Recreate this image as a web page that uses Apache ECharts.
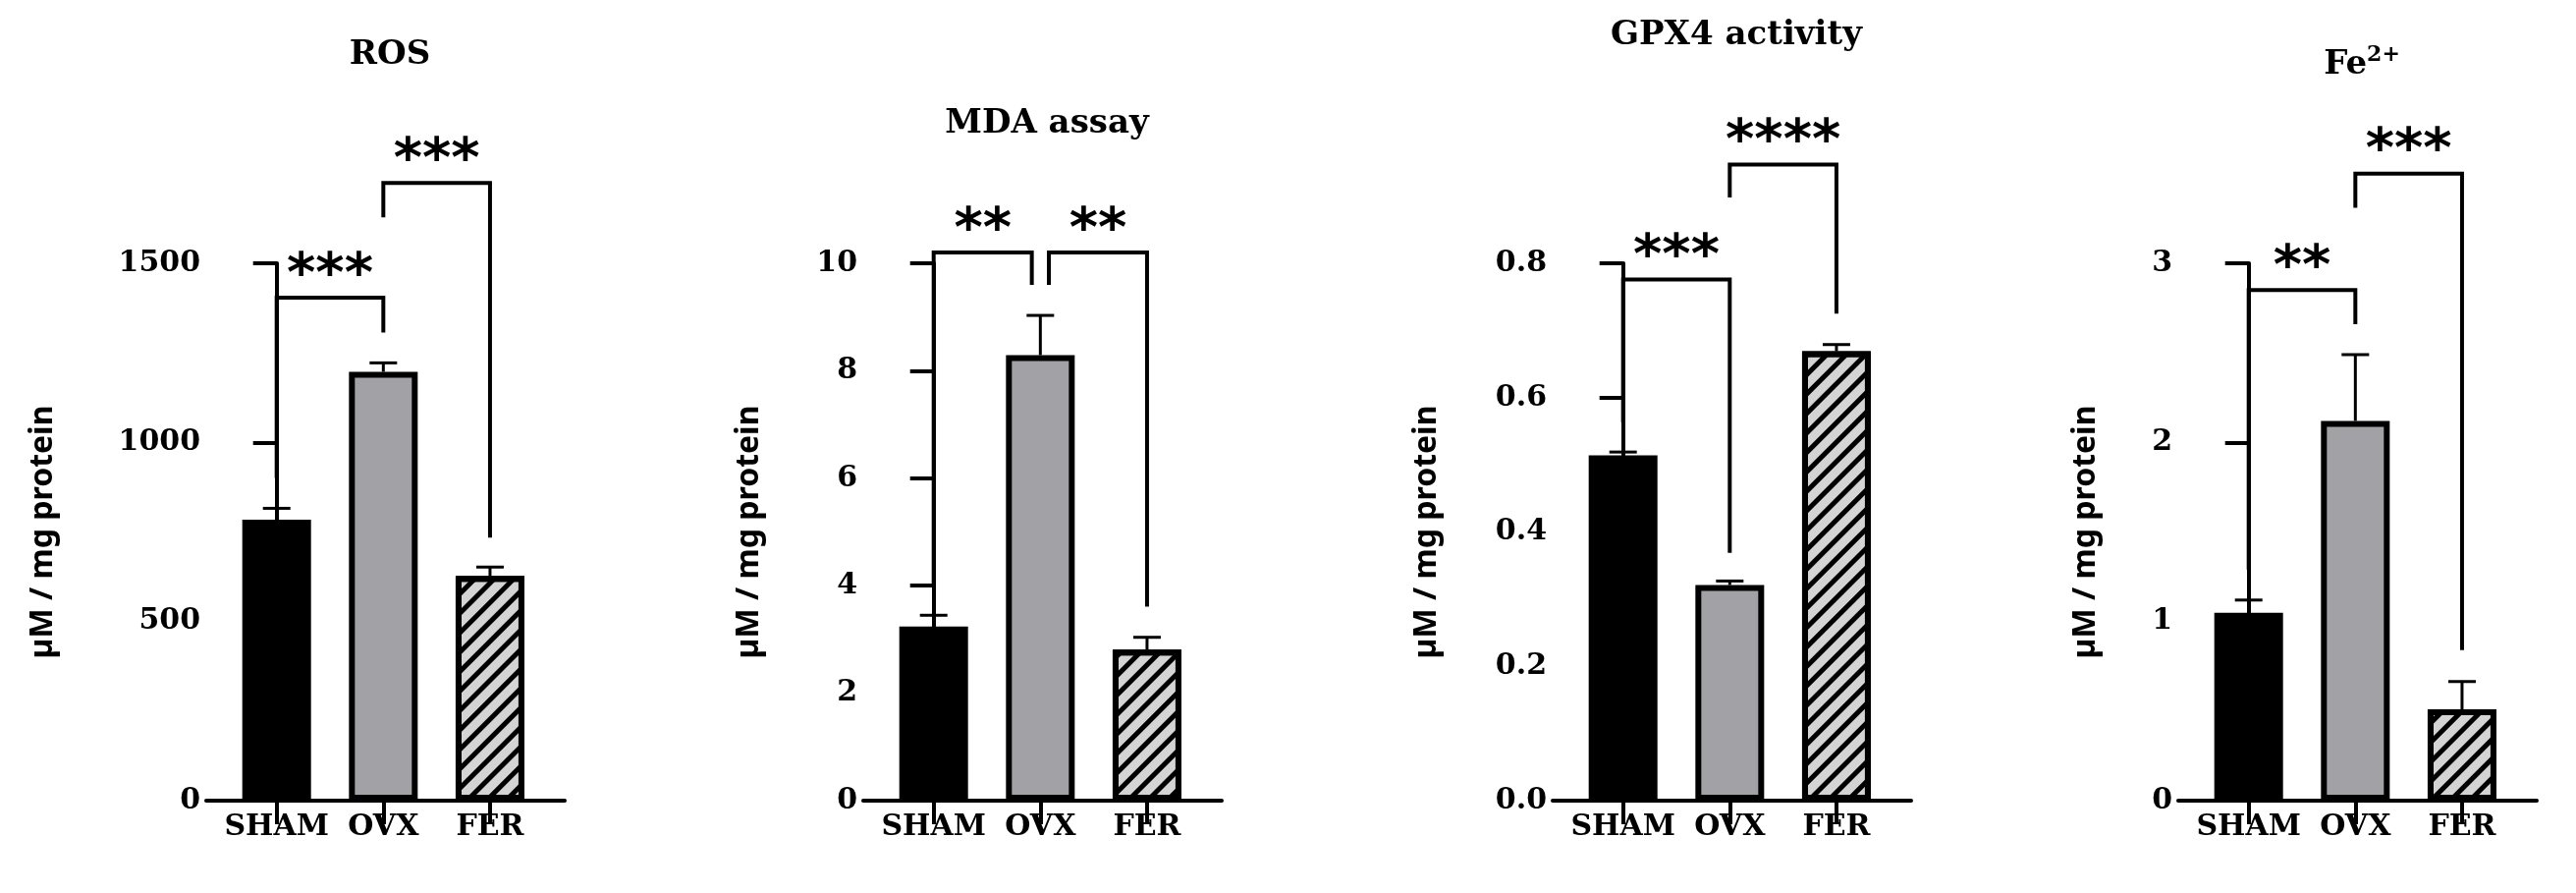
<!DOCTYPE html>
<html><head><meta charset="utf-8">
<script src="https://cdn.jsdelivr.net/npm/echarts@6/dist/echarts.min.js"></script>
<style>html,body{margin:0;padding:0;background:#fff}#c{width:2623px;height:909px}</style>
</head><body><div id="c"></div>
<script>
const categories = ['SHAM','OVX','FER'];
const panelTitles = ['ROS','MDA assay','GPX4 activity','Fe2+'];
const rosMean = [784, 1197, 627];
const rosErr  = [816, 1222, 652];
const mdaMean = [3.24, 8.29, 2.81];
const mdaErr  = [3.45, 9.03, 3.04];
const gpxMean = [0.514, 0.321, 0.669];
const gpxErr  = [0.519, 0.327, 0.679];
const feMean  = [1.049, 2.12, 0.51];
const feErr   = [1.12, 2.49, 0.665];
const yMax = [1500, 10, 0.8, 3];
const yInterval = [500, 2, 0.2, 1];
// brackets: [fromIdx, toIdx, yTop, yLeftEnd, yRightEnd, stars]
const rosBr = [[0,1,1404,901,1307,'***'],[1,2,1724,1628,734,'***']];
const mdaBr = [[0,0.92,10.2,4.02,9.6,'**'],[1.08,2,10.2,9.6,3.61,'**']];
const gpxBr = [[0,1,0.776,0.563,0.369,'***'],[1,2,0.947,0.898,0.725,'****']];
const feBr  = [[0,1,2.85,1.29,2.66,'**'],[1,2,3.5,3.31,0.84,'***']];

const means=[rosMean,mdaMean,gpxMean,feMean], errs=[rosErr,mdaErr,gpxErr,feErr], brs=[rosBr,mdaBr,gpxBr,feBr];
const gridLeft=[210,879,1581,2218];
const nameGaps=[150,100,112,78];
const titleTop=[34,104,14,40];
const fills=['#000000','#a2a2a6','#d4d4d4'];
const serif='"DejaVu Serif"';

const chart=echarts.init(document.getElementById('c'));
const grid=[],xAxis=[],yAxis=[],series=[],title=[];
for(let p=0;p<4;p++){
  grid.push({left:gridLeft[p],width:365,top:268,bottom:94});
  xAxis.push({type:'value',gridIndex:p,min:-0.66,max:2.7,splitLine:{show:false},
    axisLine:{onZero:false,lineStyle:{color:'#000',width:4}},
    axisTick:{customValues:[0,1,2],length:24,lineStyle:{color:'#000',width:4}},
    axisLabel:{customValues:[0,1,2],formatter:v=>categories[Math.round(v)],color:'#000',fontFamily:serif,fontWeight:'bold',fontSize:30,margin:12}});
  yAxis.push({type:'value',gridIndex:p,min:0,max:yMax[p],interval:yInterval[p],splitLine:{show:false},
    axisLine:{show:true,lineStyle:{color:'#000',width:4}},
    axisTick:{show:true,length:24,lineStyle:{color:'#000',width:4}},
    axisLabel:{color:'#000',fontFamily:serif,fontWeight:'bold',fontSize:30,margin:6,
      formatter:v=>p===2?v.toFixed(1):String(v)},
    name:'µM / mg protein',nameLocation:'middle',nameGap:nameGaps[p],
    nameTextStyle:{fontFamily:'"Noto Sans"',fontWeight:'bold',fontSize:32,color:'#000'}});
  const titleText = p===3?'{b|Fe}{s|2+}':panelTitles[p];
  title.push({text:titleText,left:gridLeft[p]+182,top:titleTop[p],textAlign:'center',
    textStyle:{fontFamily:serif,fontWeight:'bold',fontSize:34,color:'#000',
      rich:{b:{fontFamily:serif,fontWeight:'bold',fontSize:34,color:'#000'},s:{fontFamily:serif,fontWeight:'bold',fontSize:22,color:'#000',verticalAlign:'top',padding:[0,0,20,0]}}}});
  series.push({type:'bar',xAxisIndex:p,yAxisIndex:p,barWidth:70,z:2,
    data:means[p].map((v,i)=>({value:[i,v],itemStyle:{color:fills[i],borderColor:'#000',borderWidth:i===0?0:6,
      decal:i===2?{symbol:'rect',symbolSize:1,dashArrayX:[1,0],dashArrayY:[5,9],rotation:-Math.PI/4,color:'#000'}:null}}))});
  series.push({type:'custom',xAxisIndex:p,yAxisIndex:p,z:1,clip:false,
    data:means[p].map((v,i)=>[i,v,errs[p][i]]),
    renderItem:(params,api)=>{const a=api.coord([api.value(0),api.value(1)]),b=api.coord([api.value(0),api.value(2)]);
      return {type:'group',children:[
        {type:'line',shape:{x1:a[0],y1:a[1],x2:b[0],y2:b[1]},style:{stroke:'#000',lineWidth:3}},
        {type:'line',shape:{x1:b[0]-14,y1:b[1],x2:b[0]+14,y2:b[1]},style:{stroke:'#000',lineWidth:3}}]};}});
  series.push({type:'custom',xAxisIndex:p,yAxisIndex:p,z:3,clip:false,
    data:brs[p],
    renderItem:(params,api)=>{const d=brs[p][params.dataIndex];
      const tl=api.coord([d[0],d[2]]),tr=api.coord([d[1],d[2]]),bl=api.coord([d[0],d[3]]),br=api.coord([d[1],d[4]]);
      return {type:'group',children:[
        {type:'polyline',shape:{points:[bl,tl,tr,br]},style:{stroke:'#000',lineWidth:4,fill:null}},
        {type:'text',x:(tl[0]+tr[0])/2,y:tl[1]+6,style:{text:d[5],font:'bold 56px "DejaVu Sans"',fill:'#000',align:'center',verticalAlign:'bottom'}}]};}});
}
chart.setOption({animation:false,title,grid,xAxis,yAxis,series});
</script></body></html>
